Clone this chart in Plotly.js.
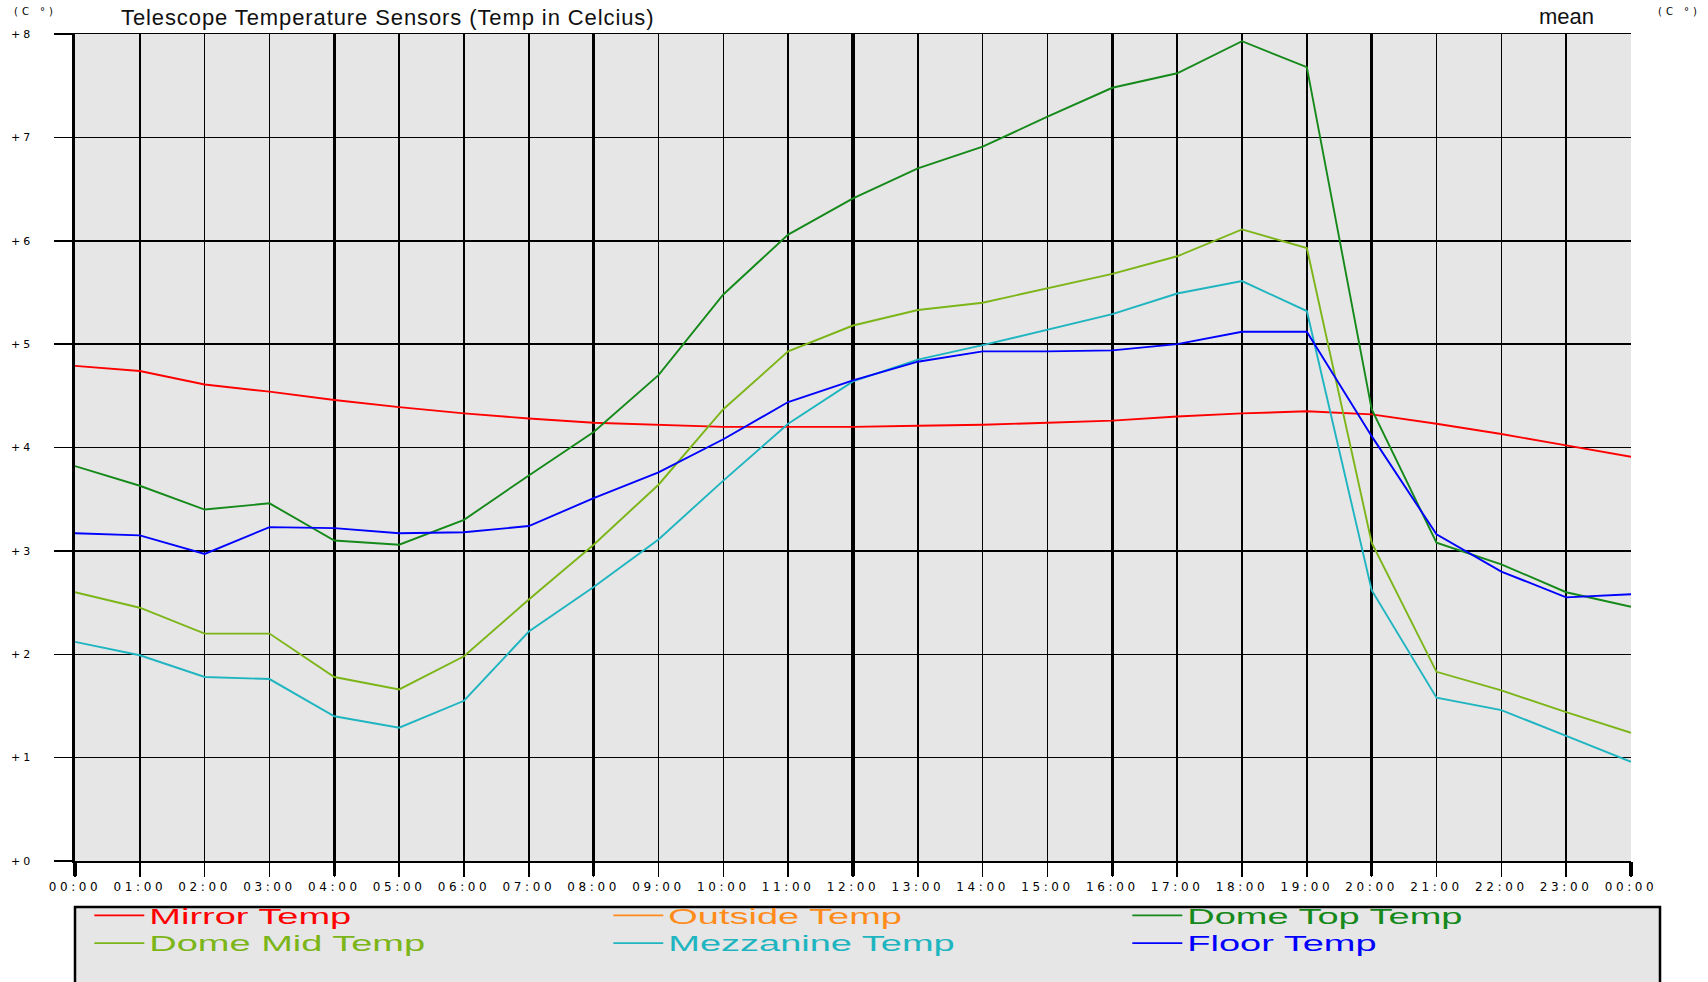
<!DOCTYPE html>
<html>
<head>
<meta charset="utf-8">
<script src="https://cdn.plot.ly/plotly-3.0.1.min.js"></script>
<style>
html, body { margin: 0; padding: 0; background: #ffffff; }
#chart { width: 1708px; height: 982px; }
.xtick text { letter-spacing: 3.6px; }
.ytick text, .y2tick text { letter-spacing: 3px; }
.gtitle { letter-spacing: 0.9px; }
.legendtext { transform-box: fill-box; transform-origin: 0 50%; transform: scale(2.0, 1.12); }
.annotation[data-index="1"] text, .annotation[data-index="2"] text { letter-spacing: 4px; }
</style>
</head>
<body>
<div id="chart"></div>
<script>
// ---- data ----
const hours = [0,1,2,3,4,5,6,7,8,9,10,11,12,13,14,15,16,17,18,19,20,21,22,23,24];
const hourLabels = ["00:00","01:00","02:00","03:00","04:00","05:00","06:00","07:00","08:00","09:00","10:00","11:00","12:00",
                    "13:00","14:00","15:00","16:00","17:00","18:00","19:00","20:00","21:00","22:00","23:00","00:00"];
const majorHours = [0,4,8,12,16,20,24];
const yVals = [0,1,2,3,4,5,6,7,8];
const yLabels = ["+0","+1","+2","+3","+4","+5","+6","+7","+8"];

const seriesNames = ["Mirror Temp","Outside Temp","Dome Top Temp","Dome Mid Temp","Mezzanine Temp","Floor Temp"];
const seriesColors = ["#ff0000","#ff8c1a","#15891a","#7cb518","#1fb5c0","#0000ff"];

const mirrorTemp    = [4.79,4.74,4.61,4.54,4.46,4.39,4.33,4.28,4.24,4.22,4.20,4.20,4.20,4.21,4.22,4.24,4.26,4.30,4.33,4.35,4.32,4.23,4.13,4.02,3.91];
const outsideTemp   = [null,null,null,null,null,null,null,null,null,null,null,null,null,null,null,null,null,null,null,null,null,null,null,null,null];
const domeTopTemp   = [3.82,3.63,3.40,3.46,3.10,3.06,3.30,3.73,4.15,4.70,5.48,6.06,6.41,6.70,6.91,7.20,7.48,7.62,7.93,7.68,4.37,3.08,2.87,2.60,2.46];
const domeMidTemp   = [2.60,2.45,2.20,2.20,1.78,1.66,1.98,2.53,3.06,3.64,4.37,4.93,5.18,5.33,5.40,5.54,5.68,5.85,6.11,5.93,3.08,1.83,1.65,1.44,1.24];
const mezzanineTemp = [2.12,1.99,1.78,1.76,1.40,1.29,1.55,2.22,2.65,3.11,3.68,4.23,4.64,4.85,4.99,5.14,5.29,5.49,5.61,5.32,2.62,1.58,1.46,1.21,0.96];
const floorTemp     = [3.17,3.15,2.97,3.23,3.22,3.17,3.18,3.24,3.51,3.76,4.08,4.44,4.65,4.83,4.93,4.93,4.94,5.00,5.12,5.12,4.11,3.16,2.80,2.55,2.58];

const allSeries = [mirrorTemp, outsideTemp, domeTopTemp, domeMidTemp, mezzanineTemp, floorTemp];

// ---- traces ----
const traces = allSeries.map((vals, i) => ({
  type: 'scatter',
  mode: 'lines',
  x: hours,
  y: vals,
  xaxis: i === 1 ? 'x2' : 'x',
  name: '<span style="color:' + seriesColors[i] + '">' + seriesNames[i] + '</span>',
  line: { color: seriesColors[i], width: 1.9 },
  hoverinfo: 'x+y'
}));

const tickFont = { family: 'DejaVu Sans', size: 12, color: '#000000' };
const yTickFont = { family: 'DejaVu Sans', size: 11, color: '#000000' };

const layout = {
  width: 1708,
  height: 982,
  paper_bgcolor: '#ffffff',
  plot_bgcolor: '#e6e6e6',
  margin: { l: 75, r: 77, t: 34, b: 121, autoexpand: false },
  showlegend: true,
  title: {
    text: 'Telescope Temperature Sensors (Temp in Celcius)',
    font: { family: 'Liberation Sans', size: 22, color: '#111111' },
    xref: 'container', yref: 'container',
    x: 121 / 1708, xanchor: 'left',
    y: 1 - 17 / 982, yanchor: 'middle'
  },
  xaxis: {
    type: 'linear',
    range: [0, 24],
    tickmode: 'array',
    tickvals: hours,
    ticktext: hourLabels,
    ticks: 'outside', ticklen: 14, tickwidth: 1.5, tickcolor: '#000000',
    showgrid: true, gridcolor: '#000000', gridwidth: 1.5,
    showline: true, mirror: true, linecolor: '#000000', linewidth: 1.5,
    zeroline: false,
    tickfont: tickFont,
    fixedrange: true
  },
  xaxis2: {
    type: 'linear',
    overlaying: 'x',
    anchor: 'y',
    side: 'bottom',
    range: [0, 24],
    tickmode: 'array',
    tickvals: majorHours,
    showticklabels: false,
    ticks: 'outside', ticklen: 14, tickwidth: 3.5, tickcolor: '#000000',
    showgrid: true, gridcolor: '#000000', gridwidth: 3.5,
    showline: false, zeroline: false,
    fixedrange: true
  },
  yaxis: {
    type: 'linear',
    range: [0, 8],
    tickmode: 'array',
    tickvals: yVals,
    ticktext: yLabels,
    ticks: 'outside', ticklen: 18, tickwidth: 1.5, tickcolor: '#000000',
    ticklabelstandoff: 18,
    showgrid: true, gridcolor: '#000000', gridwidth: 1.5,
    showline: true, linecolor: '#000000', linewidth: 3.5,
    zeroline: false,
    tickfont: yTickFont,
    fixedrange: true
  },
  yaxis2: {
    type: 'linear',
    overlaying: 'y',
    anchor: 'x',
    side: 'right',
    range: [0, 8],
    tickmode: 'array',
    tickvals: yVals,
    ticktext: yLabels,
    ticks: 'outside', ticklen: 16, tickwidth: 1.5, tickcolor: '#000000',
    ticklabelstandoff: 8,
    showgrid: false,
    showline: true, linecolor: '#000000', linewidth: 3.5,
    zeroline: false,
    tickfont: yTickFont,
    fixedrange: true
  },
  legend: {
    orientation: 'h',
    x: 0.0092, xanchor: 'left',
    y: -0.043, yanchor: 'top',
    bgcolor: 'rgba(0,0,0,0)',
    borderwidth: 0,
    itemwidth: 50,
    entrywidth: 454,
    entrywidthmode: 'pixels',
    font: { family: 'Liberation Sans', size: 19, color: '#000000' },
    traceorder: 'normal'
  },
  shapes: [{
    type: 'rect', xref: 'paper', yref: 'paper',
    x0: 0, x1: (1660 - 75) / 1556,
    y0: -(907 - 861) / 827, y1: -(1000 - 861) / 827,
    fillcolor: '#e6e6e6',
    line: { color: '#000000', width: 2.5 },
    layer: 'below'
  }],
  annotations: [
    { text: 'mean', xref: 'paper', yref: 'paper', x: (1596 - 75) / 1556, xanchor: 'right',
      y: (861 - 17) / 827, yanchor: 'middle', showarrow: false,
      font: { family: 'Liberation Sans', size: 22, color: '#111111' } },
    { text: '(C °)', xref: 'paper', yref: 'paper', x: (35 - 75) / 1556, xanchor: 'center',
      y: (861 - 11) / 827, yanchor: 'middle', showarrow: false,
      font: { family: 'DejaVu Sans', size: 10, color: '#000000' } },
    { text: '(C °)', xref: 'paper', yref: 'paper', x: (1679 - 75) / 1556, xanchor: 'center',
      y: (861 - 11) / 827, yanchor: 'middle', showarrow: false,
      font: { family: 'DejaVu Sans', size: 10, color: '#000000' } }
  ]
};

Plotly.newPlot('chart', traces, layout, { staticPlot: true, displayModeBar: false });
</script>
</body>
</html>
